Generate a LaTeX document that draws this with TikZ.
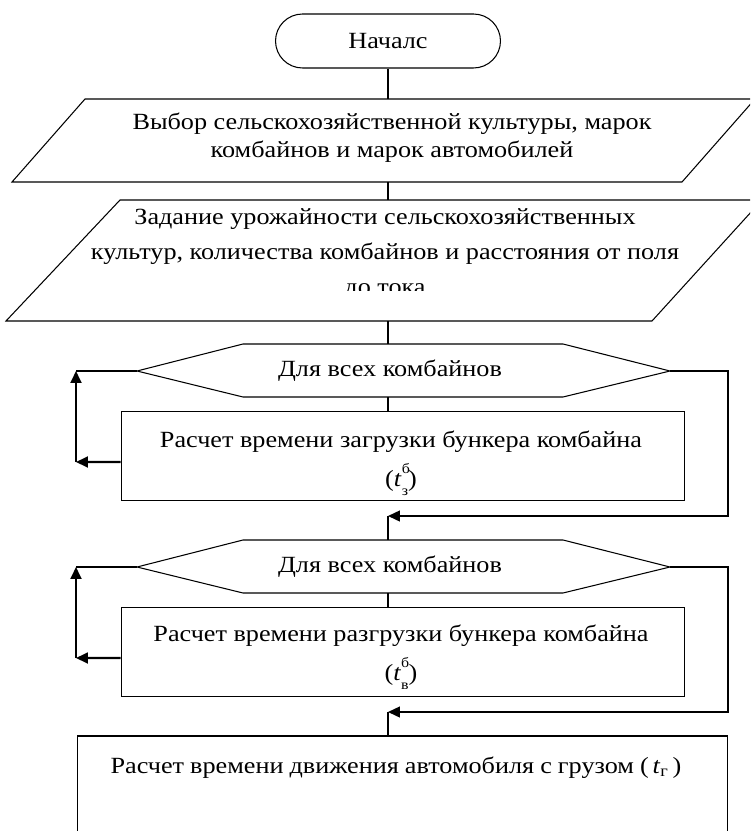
\documentclass[tikz,border=0pt]{standalone}
\usepackage{amsmath}
\usepackage{fontspec}
\setmainfont{Liberation Serif}[FakeStretch=1.13]
\usepackage{tikz}
\usetikzlibrary{arrows.meta,positioning,calc}

\newcommand{\tidx}[2]{\textit{t}\rlap{\raisebox{1.15ex}{\fontsize{8}{8}\selectfont #1}}\raisebox{-0.85ex}{\fontsize{8}{8}\selectfont #2}}

\begin{document}
\begin{tikzpicture}[x=0.02cm, y=-0.02cm, line width=0.6pt,
	flowtext/.style={font=\fontsize{13.2}{16.5}\selectfont, align=center, inner sep=0pt},
	procbox/.style={draw, minimum width=11.28cm, minimum height=1.77cm, inner sep=0pt},
	loopline/.style={line width=1.2pt},
	backline/.style={line width=0.9pt},
	tip/.style={-{Triangle[length=6.8pt,width=6.2pt]}}]
		\useasboundingbox (0,0) rectangle (750,831);
		\clip (0,0) rectangle (750,831);

		% начало
		\node[draw, rounded corners=0.54cm, minimum width=4.5cm, minimum height=1.08cm, flowtext] (start) at (388,41) {Началс};

		% ввод данных (base = последняя строка)
		\draw (85,99) -- (755,99) -- (682,182) -- (12,182) -- cycle;
		\coordinate (sel top) at (388,99);
		\coordinate (sel bot) at (388,182);
		\node[flowtext, anchor=base] (sel) at (392,158) {Выбор сельскохозяйственной культуры, марок\\комбайнов и марок автомобилей};

		\draw (120,200) -- (762,200) -- (652,321) -- (6,321) -- cycle;
		\coordinate (task top) at (388,200);
		\coordinate (task bot) at (388,321);
		\begin{scope}
			\clip (0,200) rectangle (750,290);
			\node[flowtext, font=\fontsize{13.2}{19.8}\selectfont, anchor=base] (task) at (385,294) {Задание урожайности сельскохозяйственных\\культур, количества комбайнов и расстояния от поля\\до тока};
		\end{scope}

		% первый цикл
		\draw (137,371) coordinate (cyc1 w) -- (243,344) -- (563,344) -- (670,371) coordinate (cyc1 e) -- (563,397) -- (243,397) -- cycle;
		\coordinate (cyc1 n) at (388,344);
		\coordinate (cyc1 s) at (388,397);
		\node[flowtext] (cyc1) at (390,371) {Для всех комбайнов};
		\node[procbox] (load) at (403,456) {};
		\node[flowtext, font=\fontsize{13.2}{22}\selectfont, anchor=base] (load text) at (401,486) {Расчет времени загрузки бункера комбайна\\(\tidx{б}{з})};

		\coordinate (lp1 low) at (76,462);
		\coordinate (lp1 up) at (76,371);
		\coordinate (rp1) at (728,371);
		\coordinate (join1) at (388,516);

		% второй цикл
		\draw (137,567) coordinate (cyc2 w) -- (243,540) -- (563,540) -- (670,567) coordinate (cyc2 e) -- (563,593) -- (243,593) -- cycle;
		\coordinate (cyc2 n) at (388,540);
		\coordinate (cyc2 s) at (388,593);
		\node[flowtext] (cyc2) at (390,567) {Для всех комбайнов};
		\node[procbox] (unload) at (403,652) {};
		\node[flowtext, font=\fontsize{13.2}{22}\selectfont, anchor=base] (unload text) at (401,680) {Расчет времени разгрузки бункера комбайна\\(\tidx{б}{в})};

		\coordinate (lp2 low) at (76,658);
		\coordinate (lp2 up) at (76,567);
		\coordinate (rp2) at (728,567);
		\coordinate (join2) at (388,712);

		% движение с грузом
		\node[draw, minimum width=13.02cm, minimum height=2.6cm, inner sep=0pt] (drive) at (402.5,801) {};
		\node[flowtext, anchor=base] (drive text) at (396,773) {\makebox[11.42cm][s]{Расчет времени движения автомобиля с грузом (\,\textit{t}\textsubscript{г}\,)}};

		% связи
		\draw (start) -- (sel top);
		\draw (sel bot) -- (task top);
		\draw (task bot) -- (cyc1 n);
		\draw (cyc1 s) -- (cyc1 s |- load.north);
		\draw[loopline, tip] ([yshift=-0.12cm]load.west) -- (lp1 low);
		\draw[loopline, tip] (lp1 low) -- (lp1 up);
		\draw (cyc1 w) -- (lp1 up);
		\draw[backline, tip] (cyc1 e) -- (rp1) |- (join1);
		\draw (join1) -- (cyc2 n);
		\draw (cyc2 s) -- (cyc2 s |- unload.north);
		\draw[loopline, tip] ([yshift=-0.12cm]unload.west) -- (lp2 low);
		\draw[loopline, tip] (lp2 low) -- (lp2 up);
		\draw (cyc2 w) -- (lp2 up);
		\draw[backline, tip] (cyc2 e) -- (rp2) |- (join2);
		\draw (join2) -- (join2 |- drive.north);
	\end{tikzpicture}
\end{document}
